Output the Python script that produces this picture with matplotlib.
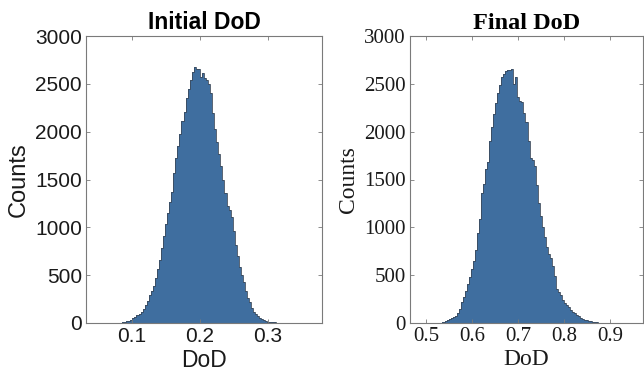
import numpy as np
import matplotlib
matplotlib.use("Agg")
import matplotlib.pyplot as plt

# bin counts
init_start = 0.065
init_width = 0.003
init_counts = [0, 0, 1, 1, 2, 3, 5, 7, 10, 16, 24, 35, 48, 62, 80, 96, 120, 148,
               185, 230, 288, 330, 385, 470, 560, 655, 780, 910, 1040, 1150, 1260,
               1370, 1570, 1720, 1850, 1980, 2115, 2210, 2350, 2450, 2540, 2620,
               2680, 2650, 2660, 2570, 2610, 2560, 2540, 2500, 2400, 2200, 2030,
               1890, 1770, 1640, 1500, 1360, 1220, 1185, 1110, 960, 820, 700, 588,
               505, 430, 330, 260, 218, 160, 118, 92, 72, 55, 42, 30, 22, 15, 10,
               8, 6, 5, 3, 2, 1, 1, 0]

final_start = 0.500
final_width = 0.0044
final_counts = [0, 0, 0, 1, 1, 1, 2, 4, 10, 20, 30, 42, 52, 64, 76, 105, 150, 220,
                270, 330, 410, 480, 560, 650, 760, 940, 1090, 1360, 1450, 1610, 1680,
                1900, 2050, 2180, 2300, 2400, 2490, 2570, 2600, 2630, 2645, 2640,
                2655, 2500, 2575, 2360, 2320, 2310, 2190, 2100, 1900, 1720, 1700,
                1640, 1440, 1250, 1120, 1000, 900, 795, 720, 680, 600, 490, 360, 325,
                290, 236, 212, 190, 170, 140, 115, 100, 85, 68, 55, 45, 36, 28, 22,
                17, 14, 10, 7, 5, 4, 3, 2, 1, 1, 0]

init_xticks = [0.1, 0.2, 0.3]
final_xticks = [0.5, 0.6, 0.7, 0.8, 0.9]
yticks = [0, 500, 1000, 1500, 2000, 2500, 3000]

face = "#3f6e9f"
spine_col = "#7a7a7a"

fig = plt.figure(figsize=(6.44, 3.78), dpi=100)
ax1 = fig.add_axes([86 / 644, 55 / 378, 236 / 644, 287 / 378])
ax2 = fig.add_axes([410 / 644, 55 / 378, 233 / 644, 287 / 378])


def draw(ax, start, width, counts, xticks, xlim, fam, tick_size, label_size):
    edges = start + width * np.arange(len(counts) + 1)
    ax.hist(edges[:-1], bins=edges, weights=counts, color=face,
            edgecolor="none", linewidth=0)
    # outline of the bars, like the dark bar edges in the original
    ax.stairs(counts, edges, color="#3b4a5c", linewidth=0.6)
    ax.set_xlim(*xlim)
    ax.set_ylim(0, 3000)
    ax.set_xticks(xticks)
    ax.set_yticks(yticks)
    ax.set_xticklabels([f"{t:g}" for t in xticks], family=fam, fontsize=tick_size)
    ax.set_yticklabels([str(t) for t in yticks], family=fam, fontsize=tick_size)
    ax.tick_params(direction="in", length=3, width=0.6, colors=spine_col,
                   labelcolor="#1a1a1a", top=True, right=True, pad=3)
    for s in ax.spines.values():
        s.set_color(spine_col)
        s.set_linewidth(0.8)
    ax.set_xlabel("DoD", family=fam, fontsize=label_size, color="#1a1a1a", labelpad=2)
    ax.set_ylabel("Counts", family=fam, fontsize=17, color="#1a1a1a", labelpad=4)


draw(ax1, init_start, init_width, init_counts, init_xticks, (0.033, 0.379),
     "Liberation Sans", 15, 16.5)
ax1.set_title("Initial DoD", family="Liberation Sans", fontsize=16.5,
              fontweight="bold", pad=5)

draw(ax2, final_start, final_width, final_counts, final_xticks, (0.4646, 0.971),
     "Liberation Serif", 15, 17)
ax2.set_title("Final DoD", family="Liberation Serif", fontsize=17.5,
              fontweight="bold", pad=5)

fig.savefig("out.png", dpi=100)
